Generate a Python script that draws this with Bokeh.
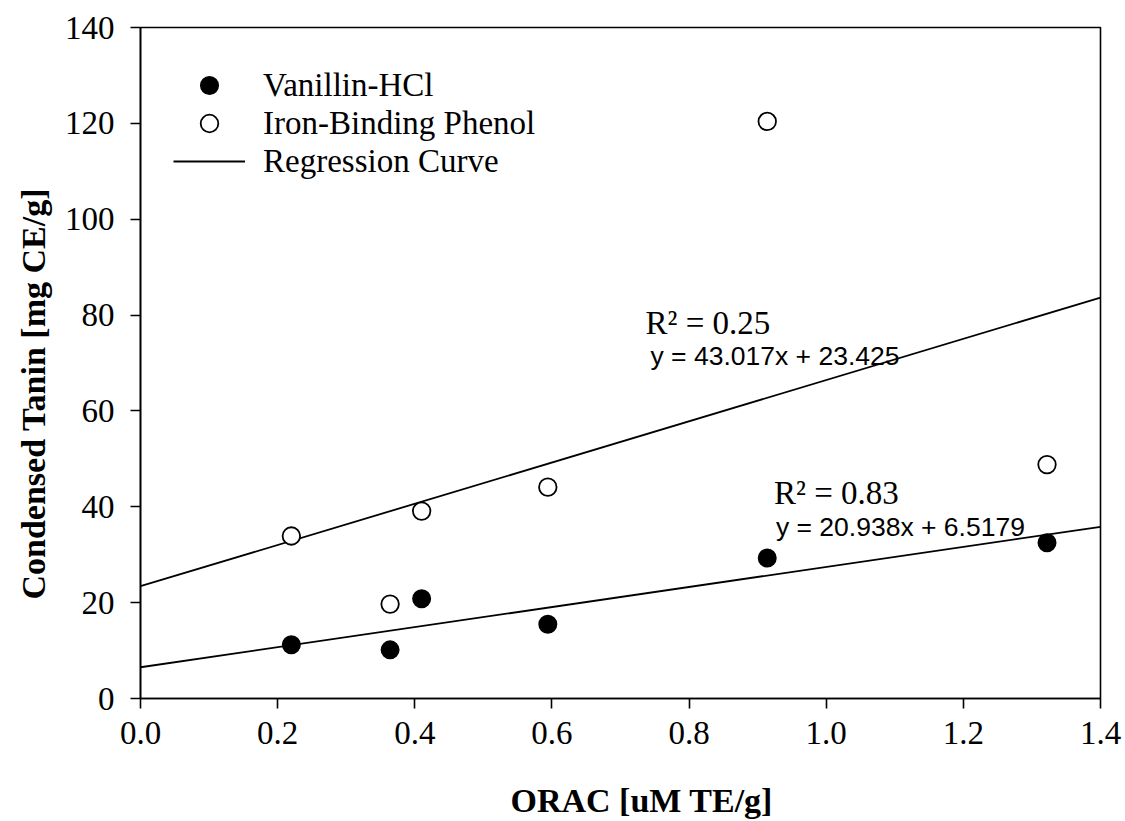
from bokeh.plotting import figure
from bokeh.models import (FixedTicker, PrintfTickFormatter, Legend, LegendItem,
                          Range1d, Title)
from bokeh.core.properties import value
from bokeh.embed import file_html
from bokeh.resources import INLINE

# ---- data ----
orac = [0.220, 0.364, 0.410, 0.594, 0.914, 1.322]
vanillin_hcl = [11.2, 10.15, 20.8, 15.5, 29.3, 32.5]
orac_iron = [0.220, 0.364, 0.410, 0.594, 0.914, 1.322]
iron_binding = [33.9, 19.7, 39.1, 44.1, 120.4, 48.8]

reg_x = [0.0, 1.4]
iron_slope, iron_intercept = 43.017, 23.425
van_slope, van_intercept = 20.938, 6.5179

x_ticks = [0.0, 0.2, 0.4, 0.6, 0.8, 1.0, 1.2, 1.4]
y_ticks = [0, 20, 40, 60, 80, 100, 120, 140]

x_title = "ORAC [uM TE/g]"
y_title = "Condensed Tanin [mg CE/g]"
legend_labels = ["Vanillin-HCl", "Iron-Binding Phenol", "Regression Curve"]

serif = "Liberation Serif"
sans = "Liberation Sans"

p = figure(width=1125, height=821, output_backend="svg", toolbar_location=None,
           x_range=Range1d(0, 1.4), y_range=Range1d(0, 140),
           min_border_left=140, min_border_right=25, min_border_top=27,
           min_border_bottom=122)
p.grid.visible = False
p.background_fill_color = "white"
p.border_fill_color = "white"
p.outline_line_color = "black"
p.outline_line_width = 1.6

for ax in (p.xaxis[0], p.yaxis[0]):
    ax.axis_line_color = "black"
    ax.axis_line_width = 1.6
    ax.major_tick_line_width = 1.6
    ax.major_tick_out = 10
    ax.major_tick_in = 0
    ax.minor_tick_line_color = None
    ax.major_label_text_font = serif
    ax.major_label_text_font_size = "33px"
    ax.major_label_text_color = "black"

p.xaxis[0].ticker = FixedTicker(ticks=x_ticks)
p.xaxis[0].formatter = PrintfTickFormatter(format="%.1f")
p.yaxis[0].ticker = FixedTicker(ticks=y_ticks)
p.xaxis[0].major_label_standoff = 13
p.yaxis[0].major_label_standoff = 16

# x title as axis label (sits at the bottom edge), shifted right like the original
p.xaxis[0].axis_label = "\u00a0" * 5 + x_title
p.xaxis[0].axis_label_text_font = serif
p.xaxis[0].axis_label_text_font_size = "34px"
p.xaxis[0].axis_label_text_font_style = "bold"
p.xaxis[0].axis_label_text_color = "black"
p.xaxis[0].axis_label_standoff = 35

# y title, offset downward like the original
p.add_layout(Title(text=y_title, text_font=serif, text_font_size="34px",
                   text_font_style="bold", text_color="black",
                   align="left", offset=99, standoff=20), "left")

# regression lines
iron_y = [iron_slope * x + iron_intercept for x in reg_x]
van_y = [van_slope * x + van_intercept for x in reg_x]
l1 = p.line(reg_x, iron_y, line_color="black", line_width=1.8)
p.line(reg_x, van_y, line_color="black", line_width=1.8)

# points
r_van = p.scatter(orac, vanillin_hcl, marker="circle", size=17.5,
                  fill_color="black", line_color="black", line_width=1.5)
r_iron = p.scatter(orac_iron, iron_binding, marker="circle", size=17.5,
                   fill_color="white", line_color="black", line_width=1.8)

# annotations
p.text(x=[0.7365], y=[78.3], text=["R² = 0.25"], text_font=value(serif),
       text_font_size="33px", text_align="left", text_baseline="alphabetic",
       text_color="black")
p.text(x=[0.7437], y=[71.4], text=["y = 43.017x + 23.425"], text_font=value(sans),
       text_font_size="26.5px", text_align="left", text_baseline="alphabetic",
       text_color="black")
p.text(x=[0.924], y=[42.8], text=["R² = 0.83"], text_font=value(serif),
       text_font_size="33px", text_align="left", text_baseline="alphabetic",
       text_color="black")
p.text(x=[0.9266], y=[35.7], text=["y = 20.938x + 6.5179"], text_font=value(sans),
       text_font_size="26.5px", text_align="left", text_baseline="alphabetic",
       text_color="black")

# legend: one row per Legend so rows can be packed tighter than the marker box
for label, rend, ypos in zip(legend_labels, [r_van, r_iron, l1], [591, 553, 515]):
    lg = Legend(items=[LegendItem(label=label, renderers=[rend])],
                location=(33, ypos))
    lg.border_line_alpha = 0
    lg.background_fill_alpha = 0
    lg.padding = 0
    lg.margin = 0
    lg.spacing = 0
    lg.glyph_width = 72
    lg.glyph_height = 44
    lg.label_height = 44
    lg.label_standoff = 18
    lg.label_text_font = serif
    lg.label_text_font_size = "33px"
    lg.label_text_color = "black"
    p.add_layout(lg)

open("out.html", "w").write(file_html(p, INLINE))
